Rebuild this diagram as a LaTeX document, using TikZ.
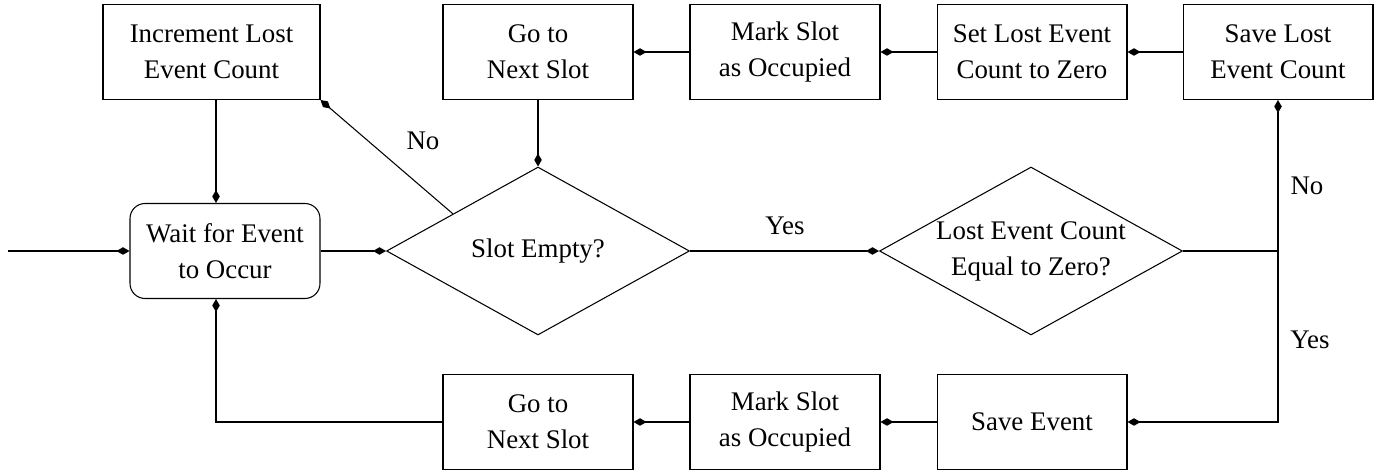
\documentclass[tikz,border=0pt]{standalone}
\usepackage{fontspec}
\setmainfont{Liberation Serif}
\usetikzlibrary{shapes.geometric,arrows.meta,calc}
\begin{document}
\begin{tikzpicture}[x=0.02cm,y=-0.02cm,
  font=\fontsize{15.3}{20.5}\selectfont,
  line width=0.6pt,
  box/.style={draw,rectangle,minimum width=3.8cm,minimum height=1.9cm,align=center,inner sep=0pt},
  rbox/.style={box,rounded corners=0.3cm},
  dia/.style={draw,diamond,minimum width=6.06cm,minimum height=3.36cm,inner sep=0pt},
  txt/.style={align=center,inner sep=0pt},
  arr/.style={-{Diamond[length=0.26cm,width=0.15cm]}},
  lab/.style={inner sep=0pt}]
\useasboundingbox (0,0) rectangle (1380,472);
\node[rbox] (wait) at (225,251) {Wait for Event\\to Occur};
\node[box,minimum width=4.34cm] (inc) at (211.5,52) {Increment Lost\\Event Count};
\node[box] (next1) at (538,52) {Go to\\Next Slot};
\node[box] (mark1) at (785,52) {Mark Slot\\as Occupied};
\node[box] (setz) at (1032,52) {Set Lost Event\\Count to Zero};
\node[box] (savel) at (1278,52) {Save Lost\\Event Count};
\node[dia] (empty) at (538,251) {};
\node[txt] (emptyt) at (empty.center) {Slot Empty?};
\node[dia] (zero) at (1031,251) {};
\node[txt] (zerot) at (zero.center) {Lost Event Count\\Equal to Zero?};
\node[box] (next2) at (538,422) {Go to\\Next Slot};
\node[box] (mark2) at (785,422) {Mark Slot\\as Occupied};
\node[box] (save) at (1032,422) {Save Event};
\coordinate (in) at (8,251);
\coordinate (jr) at (1278,251);
% connectors
\draw[arr] (in) -- (wait.west);
\draw[arr] (wait.east) -- (empty.west);
\draw[arr] (inc.south -| 216,0) -- (wait.north -| 216,0);
\draw[arr] ($(empty.west)!0.44!(empty.north)$) -- (inc.south east);
\draw[arr] (next1.south) -- (empty.north);
\draw[arr] (empty.east) -- (zero.west);
\draw (zero.east) -- (jr);
\draw[arr] (jr) -- (savel.south);
\draw[arr] (savel.west) -- (setz.east);
\draw[arr] (setz.west) -- (mark1.east);
\draw[arr] (mark1.west) -- (next1.east);
\draw[arr] (jr) |- (save.east);
\draw[arr] (save.west) -- (mark2.east);
\draw[arr] (mark2.west) -- (next2.east);
\draw[arr] (next2.west) -| (wait.south -| 216,0);
% labels
\node[lab] at (423,141) {No};
\node[lab] at (785,226) {Yes};
\node[lab] at (1307,186) {No};
\node[lab] at (1310,340) {Yes};
\end{tikzpicture}
\end{document}
